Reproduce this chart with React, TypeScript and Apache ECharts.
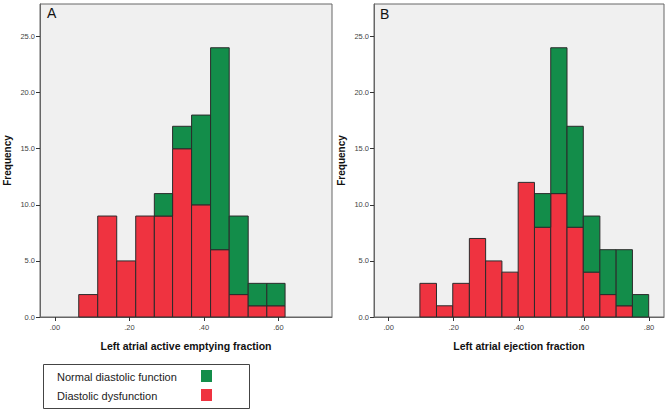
import React, { useEffect, useRef } from "react";
import * as echarts from "echarts";

// Panel A: Left atrial active emptying fraction
const edgesA = [0.064, 0.115, 0.166, 0.217, 0.267, 0.316, 0.367, 0.418, 0.468, 0.519, 0.569, 0.618];
const redA = [2, 9, 5, 9, 9, 15, 10, 6, 2, 1, 1];
const greenA = [0, 0, 0, 0, 2, 2, 8, 18, 7, 2, 2];
// Panel B: Left atrial ejection fraction
const edgesB = [0.096, 0.147, 0.197, 0.248, 0.298, 0.348, 0.398, 0.448, 0.498, 0.548, 0.598, 0.649, 0.699, 0.749, 0.799];
const redB = [3, 1, 3, 7, 5, 4, 12, 8, 11, 8, 4, 2, 1, 0];
const greenB = [0, 0, 0, 0, 0, 0, 0, 3, 13, 9, 5, 4, 5, 2];
const xTicksA = [0, 0.2, 0.4, 0.6];
const xTicksB = [0, 0.2, 0.4, 0.6, 0.8];
const xTitleA = "Left atrial active emptying fraction";
const xTitleB = "Left atrial ejection fraction";
const yTitle = "Frequency";
const seriesNames = ["Normal diastolic function", "Diastolic dysfunction"];

const GREEN = "#138d4a";
const RED = "#ef3340";
const FONT = "Arial, 'Liberation Sans', sans-serif";

function rows(edges: number[], base: number[], add: number[]) {
  return add.map((v, i) => [edges[i], edges[i + 1], base[i], base[i] + v]);
}

const renderBar = (params: any, api: any) => {
  const x0 = api.value(0), x1 = api.value(1), b = api.value(2), t = api.value(3);
  if (!(t > b)) return { type: "group", children: [] };
  const p0 = api.coord([x0, t]);
  const p1 = api.coord([x1, b]);
  return {
    type: "rect",
    shape: { x: p0[0], y: p0[1], width: p1[0] - p0[0], height: p1[1] - p0[1] },
    style: { fill: api.visual("color"), stroke: "#2b2b2b", lineWidth: 1 },
  };
};

export default function App() {
  const ref = useRef<HTMLDivElement>(null);
  useEffect(() => {
    if (!ref.current) return;
    const chart = echarts.init(ref.current, null, { renderer: "svg" });
    const fmtX = (v: number) => v.toFixed(2).replace(/^0/, "");
    const xAxis = (idx: number, min: number, max: number, ticks: number[], name: string) => ({
      type: "value",
      gridIndex: idx,
      position: "bottom",
      min,
      max,
      name,
      nameLocation: "middle",
      nameGap: 23,
      nameTextStyle: { fontFamily: FONT, fontWeight: "bold", fontSize: 10.5, color: "#111" },
      axisLine: { show: true, onZero: false, lineStyle: { color: "#666" } },
      axisTick: { show: true, length: 4, customValues: ticks, lineStyle: { color: "#333" } },
      axisLabel: { customValues: ticks, formatter: fmtX, fontFamily: FONT, fontSize: 7.5, color: "#444", margin: 6 },
      splitLine: { show: false },
    });
    const yAxis = (idx: number) => ({
      type: "value",
      gridIndex: idx,
      position: "left",
      min: 0,
      max: 27.9,
      interval: 5,
      name: yTitle,
      nameLocation: "middle",
      nameGap: 28,
      nameRotate: 90,
      nameTextStyle: { fontFamily: FONT, fontWeight: "bold", fontSize: 10, color: "#111" },
      axisLine: { show: true, onZero: false, lineStyle: { color: "#666" } },
      axisTick: { show: true, length: 4, lineStyle: { color: "#333" } },
      axisLabel: { formatter: (v: number) => v.toFixed(1), fontFamily: FONT, fontSize: 7.5, color: "#444", margin: 5, showMaxLabel: false },
      splitLine: { show: false },
    });
    const series = (idx: number, name: string, color: string, data: number[][]) => ({
      type: "custom",
      name,
      xAxisIndex: idx,
      yAxisIndex: idx,
      renderItem: renderBar,
      itemStyle: { color },
      encode: { x: [0, 1], y: [2, 3] },
      data,
    });
    const zeros = (n: number) => new Array(n).fill(0);
    chart.setOption({
      animation: false,
      backgroundColor: "#ffffff",
      grid: [
        { left: 40, top: 4, width: 292, height: 313, show: true, outerBoundsMode: "none", containLabel: false, backgroundColor: "#f0f0f0", borderColor: "#666", borderWidth: 1 },
        { left: 374, top: 4, width: 290, height: 313, show: true, outerBoundsMode: "none", containLabel: false, backgroundColor: "#f0f0f0", borderColor: "#666", borderWidth: 1 },
      ],
      xAxis: [xAxis(0, -0.04, 0.744, xTicksA, xTitleA), xAxis(1, -0.045, 0.846, xTicksB, xTitleB)],
      yAxis: [yAxis(0), yAxis(1)],
      series: [
        series(0, seriesNames[1], RED, rows(edgesA, zeros(redA.length), redA)),
        series(0, seriesNames[0], GREEN, rows(edgesA, redA, greenA)),
        series(1, seriesNames[1], RED, rows(edgesB, zeros(redB.length), redB)),
        series(1, seriesNames[0], GREEN, rows(edgesB, redB, greenB)),
      ],
      graphic: [
        { type: "text", left: 47, top: 6, style: { text: "A", font: `14px ${FONT}`, fill: "#111" } },
        { type: "text", left: 380, top: 7, style: { text: "B", font: `14px ${FONT}`, fill: "#111" } },
        {
          type: "group",
          left: 43,
          top: 364,
          children: [
            { type: "rect", shape: { x: 0.5, y: 0.5, width: 206, height: 44 }, style: { fill: "#fff", stroke: "#444", lineWidth: 1 } },
            { type: "text", x: 14, y: 12.5, style: { text: seriesNames[0], font: `11px ${FONT}`, fill: "#222", verticalAlign: "middle" } },
            { type: "rect", shape: { x: 158, y: 6, width: 11, height: 12 }, style: { fill: GREEN } },
            { type: "text", x: 14, y: 31.5, style: { text: seriesNames[1], font: `11px ${FONT}`, fill: "#222", verticalAlign: "middle" } },
            { type: "rect", shape: { x: 158, y: 25, width: 11, height: 12 }, style: { fill: RED } },
          ],
        },
      ],
    });
    return () => chart.dispose();
  }, []);
  return <div ref={ref} style={{ position: "fixed", left: 0, top: 0, width: 667, height: 412 }} />;
}
